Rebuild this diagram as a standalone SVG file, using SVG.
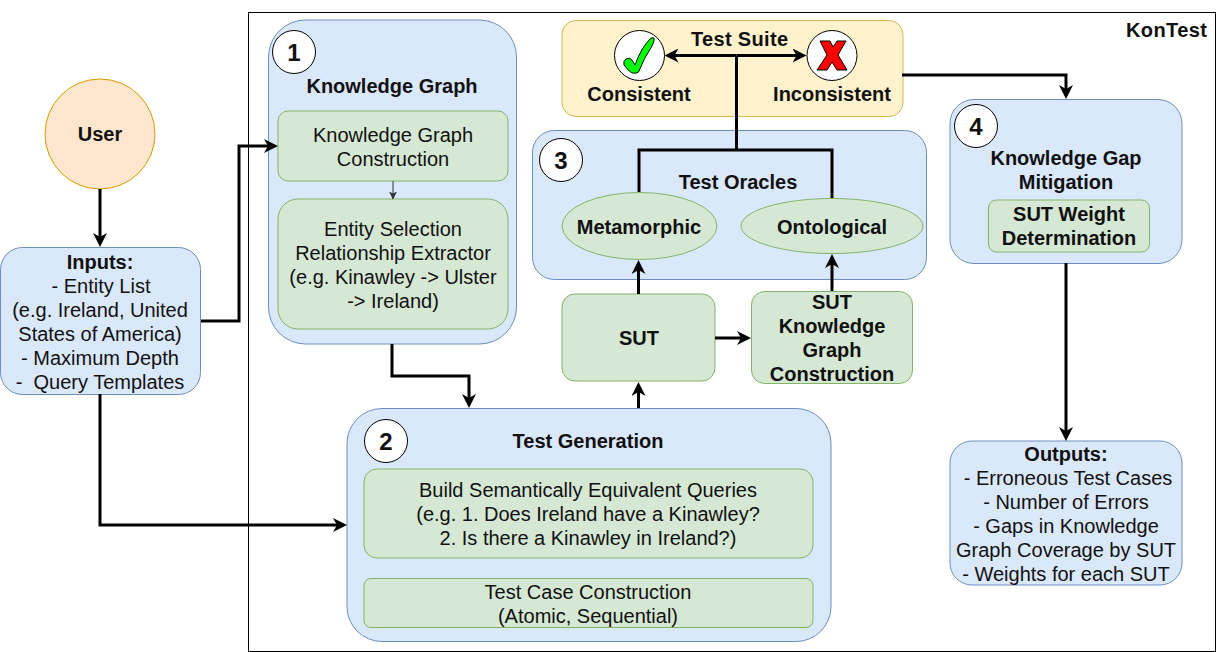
<svg xmlns="http://www.w3.org/2000/svg" width="1227" height="652" viewBox="0 0 1227 652">
<style>
text{font-family:"Liberation Sans",Arial,sans-serif;font-size:20px;fill:#111;text-anchor:middle}
.b{font-weight:bold}
.n{font-size:24px;font-weight:bold}
.blue{fill:#dae8fc;stroke:#6c8ebf;stroke-width:1}
.green{fill:#d5e8d4;stroke:#82b366;stroke-width:1}
.num{fill:#fff;stroke:#000;stroke-width:1}
.c{fill:none;stroke:#000;stroke-width:3}
</style>
<defs>
<marker id="a" viewBox="0 0 14 14" refX="10" refY="7" markerWidth="14" markerHeight="14" markerUnits="userSpaceOnUse" orient="auto"><path d="M0 0L14 7L0 14L4 7Z" fill="#000"/></marker>
<marker id="s" viewBox="0 0 8 8" refX="7.500" refY="4" markerWidth="8" markerHeight="8" markerUnits="userSpaceOnUse" orient="auto"><path d="M0 0L8 4L0 8L2 4Z" fill="#333"/></marker>
</defs>
<rect width="1227" height="652" fill="#fff"/>
<rect id="kontest" x="248.500" y="12.500" width="967" height="639" fill="#fff" stroke="#000" stroke-width="1"/>
<text x="1166.500" y="37" class="b" textLength="81">KonTest</text>
<g id="user"><circle cx="100" cy="134" r="55" fill="#ffe6cc" stroke="#d79b00"/><text x="100" y="141" class="b">User</text></g>
<g id="inputs"><rect x="0.500" y="247.500" width="200" height="147" rx="22" class="blue"/>
<text x="100" y="269" class="b">Inputs:</text><text x="101" y="293">- Entity List</text><text x="100" y="317">(e.g. Ireland, United</text><text x="100" y="341">States of America)</text><text x="100" y="365">- Maximum Depth</text><text x="100" y="389" xml:space="preserve">-  Query Templates</text></g>
<g id="kg"><rect x="268.500" y="20" width="248" height="324" rx="37" class="blue"/>
<circle cx="294" cy="52" r="21.500" class="num"/><text x="294" y="61" class="n">1</text>
<text x="392" y="93" class="b">Knowledge Graph</text></g>
<g id="kgc"><rect x="278" y="111" width="230" height="70" rx="10" class="green"/><text x="393" y="142">Knowledge Graph</text><text x="393" y="166">Construction</text></g>
<g id="esr"><rect x="278" y="199" width="230" height="130" rx="20" class="green"/><text x="393" y="236">Entity Selection</text><text x="393" y="260">Relationship Extractor</text><text x="393" y="284">(e.g. Kinawley -&gt; Ulster</text><text x="393" y="308">-&gt; Ireland)</text></g>
<g id="suite"><rect x="562" y="20.500" width="341" height="96" rx="14" fill="#fff2cc" stroke="#d6b656"/>
<text x="739.500" y="46" class="b" textLength="97">Test Suite</text><text x="639" y="101" class="b">Consistent</text><text x="832" y="101" class="b">Inconsistent</text></g>
<g id="consistent"><circle cx="639.500" cy="55.500" r="25" fill="#fff" stroke="#000"/><path d="M624 65Q623 61 626 59Q630 57 632 60L635 65Q641 48 650 39Q652 37 654 38Q655 40 652 46Q644 58 638.500 72Q636 74 633 73Q630 73 624 65Z" fill="#0f0" stroke="#000"/></g>
<g id="inconsistent"><circle cx="832" cy="55.500" r="25" fill="#fff" stroke="#000"/><path d="M820 41H830L833 47L837 41H846L838 55L847 70H837L832 62L827 70H817L827 55Z" fill="#f00" stroke="#000"/></g>
<g id="oracles"><rect x="532.500" y="130.500" width="394" height="149" rx="22" class="blue"/>
<circle cx="561" cy="160" r="21.500" class="num"/><text x="561" y="169" class="n">3</text>
<text x="738" y="189" class="b">Test Oracles</text></g>
<g id="meta"><ellipse cx="639.500" cy="226" rx="77.500" ry="33.500" class="green"/><text x="639" y="234" class="b">Metamorphic</text></g>
<g id="onto"><ellipse cx="832" cy="226" rx="91" ry="27.500" class="green"/><text x="832" y="234" class="b">Ontological</text></g>
<g id="sut"><rect x="562" y="294" width="153" height="87" rx="13" class="green"/><text x="639" y="345" class="b">SUT</text></g>
<g id="sutkg"><rect x="751.500" y="291.500" width="161" height="92" rx="13" class="green"/><text x="832" y="309" class="b">SUT</text><text x="832" y="333" class="b">Knowledge</text><text x="832" y="357" class="b">Graph</text><text x="832" y="381" class="b">Construction</text></g>
<g id="gen"><rect x="347" y="408.500" width="484" height="233" rx="35" class="blue"/>
<circle cx="386" cy="441" r="21.500" class="num"/><text x="386" y="450" class="n">2</text>
<text x="588" y="448" class="b">Test Generation</text></g>
<g id="queries"><rect x="364" y="469" width="449" height="89" rx="13" class="green"/><text x="588" y="497">Build Semantically Equivalent Queries</text><text x="588" y="521">(e.g. 1. Does Ireland have a Kinawley?</text><text x="588" y="545">2. Is there a Kinawley in Ireland?)</text></g>
<g id="tcc"><rect x="364" y="578.500" width="449" height="49" rx="7" class="green"/><text x="588" y="599">Test Case Construction</text><text x="588" y="623">(Atomic, Sequential)</text></g>
<g id="gap"><rect x="950" y="99.500" width="232" height="164" rx="24" class="blue"/>
<circle cx="976" cy="126" r="21.500" class="num"/><text x="976" y="135" class="n">4</text>
<text x="1066" y="165" class="b">Knowledge Gap</text><text x="1066" y="189" class="b">Mitigation</text></g>
<g id="weight"><rect x="988.500" y="200" width="161" height="52" rx="8" class="green"/><text x="1069" y="221" class="b">SUT Weight</text><text x="1069" y="245" class="b">Determination</text></g>
<g id="outputs"><rect x="950" y="441" width="232" height="144" rx="22" class="blue"/>
<text x="1066" y="461" class="b">Outputs:</text><text x="1068" y="485">- Erroneous Test Cases</text><text x="1066" y="509">- Number of Errors</text><text x="1066" y="533">- Gaps in Knowledge</text><text x="1066" y="557">Graph Coverage by SUT</text><text x="1066" y="581">- Weights for each SUT</text></g>
<g id="connectors">
<path class="c" marker-end="url(#a)" d="M100 189V243"/>
<path class="c" marker-end="url(#a)" d="M201 321H239V146H274"/>
<path class="c" marker-end="url(#a)" d="M100 394V525H343"/>
<path d="M393 181V199" fill="none" stroke="#333" stroke-width="1" marker-end="url(#s)"/>
<path class="c" marker-end="url(#a)" d="M392 344V376H469V404"/>
<path class="c" marker-end="url(#a)" d="M638.500 408V386"/>
<path class="c" marker-end="url(#a)" d="M638.500 294V264"/>
<path class="c" marker-end="url(#a)" d="M715 338H747"/>
<path class="c" marker-end="url(#a)" d="M832 291V258"/>
<path class="c" d="M639 192V150H832V198"/>
<path class="c" d="M736.500 150V56"/>
<path class="c" marker-end="url(#a)" d="M736.500 55.500H668.500"/>
<path class="c" marker-end="url(#a)" d="M736.500 55.500H802.500"/>
<path class="c" marker-end="url(#a)" d="M902 75H1066V95"/>
<path class="c" marker-end="url(#a)" d="M1066 263V437"/>
</g>
</svg>
